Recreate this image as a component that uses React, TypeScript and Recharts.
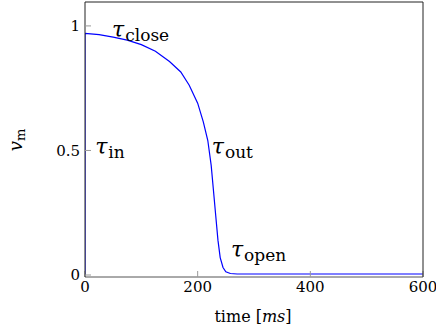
import React from 'react';
import { LineChart, Line, XAxis, YAxis, ReferenceDot } from 'recharts';

// time [ms] and v_m
const timeMs = [0, 0, 25, 50, 75, 100, 125, 150, 170, 185, 200, 210, 218, 224, 228, 232, 236, 240, 245, 250, 258, 270, 400, 600];
const vm = [0, 0.97, 0.965, 0.955, 0.943, 0.925, 0.898, 0.857, 0.815, 0.762, 0.69, 0.615, 0.54, 0.44, 0.34, 0.24, 0.14, 0.07, 0.03, 0.013, 0.006, 0.004, 0.004, 0.004];

const xTicks = [0, 200, 400, 600];
const yTicks = [0, 0.5, 1];

// annotation anchors (left edge, baseline) in data units
const tauSubs = ['close', 'in', 'out', 'open'];
const tauX = [48, 18, 225, 259];
const tauY = [0.956, 0.484, 0.484, 0.073];

const data = timeMs.map((t, i) => ({ t, v: vm[i] }));
const notes = tauSubs.map((s, i) => ({ sub: s, x: tauX[i], y: tauY[i] }));

const FONT = "'DejaVu Serif', 'Liberation Serif', serif";
const tickStyle = { fill: '#000', fontSize: 15, fontFamily: 'DejaVu Serif' };

const TauLabel = ({ cx, cy, sub }: any) => (
  <text x={cx} y={cy} fontFamily="DejaVu Serif" fill="#000">
    <tspan fontSize={22} fontStyle="italic">τ</tspan>
    <tspan fontSize={17} dx={1} dy={4}>{sub}</tspan>
  </text>
);

export default function App() {
  return (
    <div style={{ position: 'absolute', left: 0, top: 0, width: 436, height: 331, background: '#fff', fontFamily: FONT }}>
      <LineChart width={436} height={331} data={data} margin={{ top: 1, right: 12, bottom: 24, left: 0 }}>
        <XAxis
          dataKey="t"
          type="number"
          domain={[0, 600]}
          ticks={xTicks}
          allowDataOverflow
          height={30}
          tickSize={-6}
          tickMargin={10}
          tick={tickStyle}
          stroke="#555"
          tickLine={{ stroke: '#999' }}
        />
        <XAxis
          xAxisId="top"
          dataKey="t"
          orientation="top"
          type="number"
          domain={[0, 600]}
          ticks={xTicks}
          allowDataOverflow
          height={1}
          tickSize={-6}
          tick={false}
          stroke="#222"
          tickLine={{ stroke: '#999' }}
        />
        <YAxis
          type="number"
          domain={[-0.008, 1.096]}
          ticks={yTicks}
          allowDataOverflow
          width={85}
          tickSize={-6}
          tickMargin={11}
          tick={tickStyle}
          stroke="#222"
          tickLine={{ stroke: '#999' }}
        />
        <YAxis
          yAxisId="right"
          orientation="right"
          type="number"
          domain={[-0.008, 1.096]}
          ticks={yTicks}
          allowDataOverflow
          width={1}
          tickSize={-6}
          tick={false}
          stroke="#222"
          tickLine={{ stroke: '#999' }}
        />
        {/* invisible twin so the mirrored frame axes get drawn */}
        <Line
          xAxisId="top"
          yAxisId="right"
          dataKey="v"
          stroke="none"
          dot={false}
          activeDot={false}
          isAnimationActive={false}
        />
        <Line
          dataKey="v"
          stroke="#0000ff"
          strokeWidth={1.2}
          dot={false}
          type="linear"
          isAnimationActive={false}
        />
        {notes.map((n) => (
          <ReferenceDot
            key={n.sub}
            x={n.x}
            y={n.y}
            r={0}
            ifOverflow="visible"
            shape={(p: any) => <TauLabel cx={p.cx} cy={p.cy} sub={n.sub} />}
          />
        ))}
      </LineChart>
      <svg width={436} height={331} style={{ position: 'absolute', left: 0, top: 0, pointerEvents: 'none' }}>
        <text x={253} y={322} textAnchor="middle" fontSize={16} fontFamily="DejaVu Serif" fill="#000">
          time [<tspan fontStyle="italic">ms</tspan>]
        </text>
        <text x={22} y={140} textAnchor="middle" transform="rotate(-90 22 140)" fontFamily="DejaVu Serif" fill="#000">
          <tspan fontSize={18} fontStyle="italic">v</tspan>
          <tspan fontSize={13} dy={3}>m</tspan>
        </text>
      </svg>
    </div>
  );
}
